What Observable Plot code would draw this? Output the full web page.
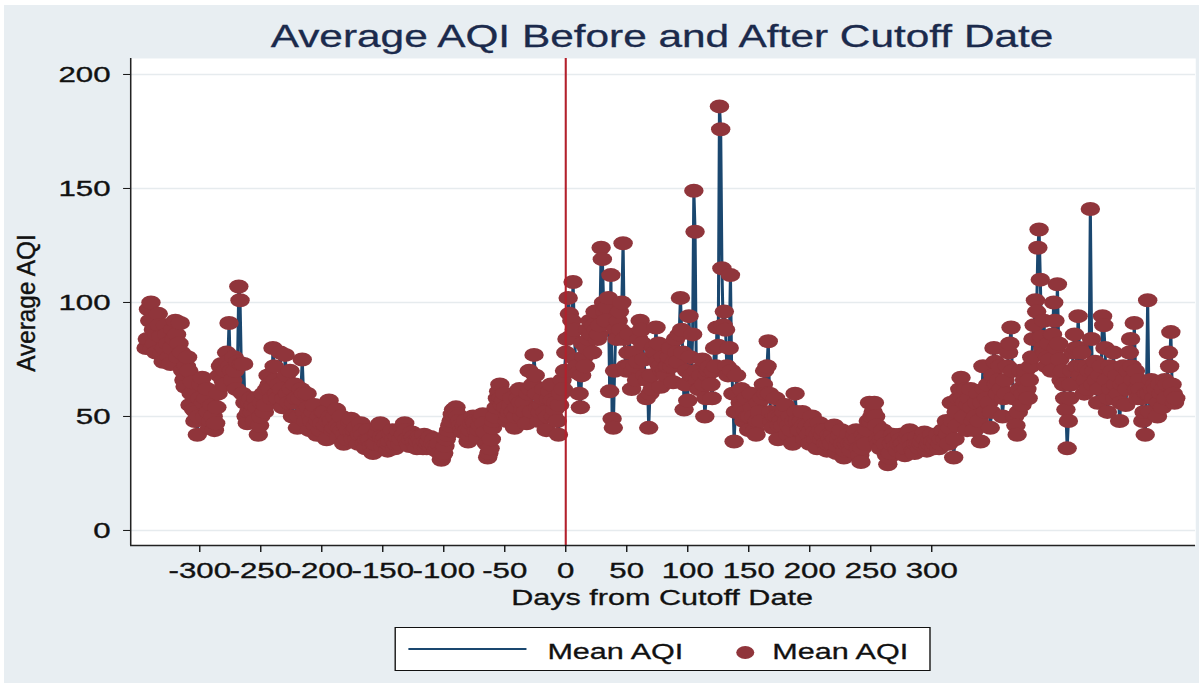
<!DOCTYPE html>
<html>
<head>
<meta charset="utf-8">
<script src="https://cdn.jsdelivr.net/npm/d3@7"></script>
<script src="https://cdn.jsdelivr.net/npm/@observablehq/plot@0.6"></script>
<style>
  html, body { margin: 0; padding: 0; background: #ffffff; }
  #page { position: relative; width: 1203px; height: 687px; overflow: hidden; background: #ffffff; }
  #bg { position: absolute; left: 4px; top: 5px; right: 4px; bottom: 4px; background: #e8eef2; }
  /* the graph is laid out on a narrower canvas and widened as a whole */
  #stage { position: absolute; left: 0; top: 0; width: 866px; height: 687px;
           transform: scaleX(1.3891); transform-origin: 0 0;
           font-family: "Liberation Sans", Arial, Helvetica, sans-serif; }
  .txt { position: absolute; white-space: nowrap; line-height: 1; -webkit-text-stroke: 0.3px currentColor; }
  #title { left: 476.6px; top: 21.2px; font-size: 30.5px; color: #1b2a4c; transform: translateX(-50%); }
  #xlabel { left: 476.6px; top: 587.4px; font-size: 22px; color: #111; transform: translateX(-50%); }
  #ylabel { left: 19.4px; top: 302.5px; font-size: 18px; color: #111;
            transform: translate(-50%, -50%) rotate(-90deg) scale(1.35, 1); }
  #chart { position: absolute; left: 0; top: 50px; }
  #chart svg text { stroke: currentColor; stroke-width: 0.35px; }
  #legend { position: absolute; left: 284.4px; top: 627px; width: 385.9px; height: 44px;
            box-sizing: border-box; border: 1px solid #111; background: #ffffff; }
  #legend .swLine { position: absolute; left: 8.8px; top: 20.2px; width: 85px; height: 1.6px; background: #1a476f; }
  #legend .swDot { position: absolute; left: 244.8px; top: 18px; width: 13px; height: 13px; border-radius: 50%; background: #90353b; }
  #legend .lab { position: absolute; top: 13.4px; font-size: 22px; color: #111; white-space: nowrap; line-height: 1; -webkit-text-stroke: 0.3px currentColor; }
</style>
</head>
<body>
<div id="page">
  <div id="bg"></div>
  <div id="stage">
    <div id="title" class="txt">Average AQI Before and After Cutoff Date</div>
    <div id="chart"></div>
    <div id="ylabel" class="txt">Average AQI</div>
    <div id="xlabel" class="txt">Days from Cutoff Date</div>
    <div id="legend">
      <div class="swLine"></div>
      <div class="lab" style="left:108.7px">Mean AQI</div>
      <div class="swDot"></div>
      <div class="lab" style="left:270.6px">Mean AQI</div>
    </div>
  </div>
</div>
<script>
// Daily mean AQI around the cutoff date.
const firstDay = -344;
const cutoffDay = 0;

// Days -344 .. -1
const aqiBefore = [
  80, 84, 97, 92, 100, 80, 88, 82, 78, 86,
  95, 90, 85, 78, 74, 80, 90, 86, 82, 76,
  73, 80, 88, 84, 92, 86, 76, 82, 91, 78,
  70, 66, 63, 72, 76, 70, 55, 60, 65, 53,
  48, 52, 42, 50, 58, 64, 67, 56, 50, 58,
  62, 52, 45, 48, 55, 50, 44, 47, 54, 60,
  68, 72, 73, 66, 64, 70, 78, 74, 91, 72,
  70, 66, 76, 70, 62, 74, 107, 101, 73, 60,
  73, 56, 50, 47, 52, 56, 58, 52, 55, 48,
  58, 54, 42, 46, 50, 56, 60, 52, 55, 62,
  68, 64, 62, 58, 80, 72, 66, 60, 58, 64,
  78, 62, 54, 58, 77, 68, 60, 56, 70, 62,
  50, 56, 64, 58, 45, 50, 58, 62, 75, 60,
  52, 48, 60, 54, 44, 50, 48, 52, 55, 46,
  42, 48, 50, 44, 47, 52, 52, 46, 40, 48,
  57, 50, 48, 44, 45, 50, 53, 46, 41, 45,
  50, 44, 38, 42, 46, 40, 44, 48, 49, 43,
  40, 44, 45, 40, 38, 42, 47, 44, 42, 38,
  36, 40, 44, 40, 40, 37, 34, 38, 38, 42,
  43, 46, 47, 41, 37, 40, 41, 38, 35, 38,
  39, 42, 44, 40, 36, 38, 41, 44, 38, 40,
  45, 42, 47, 44, 40, 38, 37, 40, 43, 41,
  39, 37, 36, 39, 41, 40, 38, 36, 42, 39,
  36, 38, 39, 41, 37, 38, 40, 37, 35, 37,
  38, 34, 31, 33, 34, 37, 40, 42, 44, 46,
  48, 51, 53, 50, 54, 51, 50, 48, 46, 44,
  43, 46, 48, 44, 39, 42, 44, 47, 50, 48,
  47, 44, 41, 44, 46, 49, 51, 47, 43, 38,
  32, 34, 36, 40, 45, 48, 50, 54, 58, 61,
  64, 58, 55, 57, 60, 54, 48, 50, 52, 55,
  58, 52, 45, 50, 54, 58, 62, 56, 50, 53,
  56, 52, 47, 60, 70, 62, 52, 64, 77, 68,
  60, 54, 48, 52, 55, 58, 62, 52, 44, 50,
  58, 61, 64, 57, 50, 53, 56, 48, 42, 55,
  60, 66, 62, 70
];

// Days 0 .. 500
const aqiAfter = [
  78, 84, 102, 95, 85, 92, 109, 88, 75, 72,
  69, 60, 54, 68, 82, 76, 72, 80, 88, 84,
  92, 86, 78, 90, 96, 88, 84, 86, 90, 124,
  119, 100, 96, 92, 98, 102, 61, 112, 49, 45,
  70, 88, 84, 92, 96, 88, 100, 126, 84, 72,
  70, 78, 86, 72, 62, 70, 78, 72, 66, 74,
  84, 92, 88, 82, 75, 68, 58, 66, 45, 60,
  68, 62, 80, 78, 89, 74, 82, 72, 63, 70,
  76, 70, 68, 72, 72, 76, 80, 72, 65, 74,
  84, 78, 74, 86, 102, 88, 78, 53, 64, 70,
  57, 94, 76, 68, 86, 149, 131, 70, 66, 62,
  62, 68, 75, 64, 50, 58, 68, 70, 72, 64,
  58, 70, 80, 72, 89, 81, 186, 176, 115, 90,
  96, 88, 72, 68, 80, 112, 70, 60, 39, 52,
  68, 60, 52, 56, 62, 54, 48, 52, 58, 50,
  44, 50, 60, 54, 50, 44, 42, 48, 56, 52,
  48, 58, 64, 70, 60, 72, 83, 60, 52, 48,
  45, 50, 58, 50, 40, 46, 50, 48, 46, 52,
  55, 48, 42, 46, 50, 44, 38, 48, 60, 52,
  48, 44, 44, 48, 52, 46, 40, 44, 46, 42,
  38, 44, 50, 46, 43, 40, 36, 42, 47, 44,
  40, 42, 44, 38, 35, 38, 42, 40, 38, 42,
  46, 40, 34, 37, 40, 42, 44, 38, 32, 35,
  38, 40, 42, 38, 35, 38, 40, 42, 44, 40,
  36, 33, 30, 36, 42, 40, 38, 44, 48, 56,
  48, 50, 52, 56, 50, 46, 40, 38, 36, 40,
  44, 41, 38, 33, 29, 32, 34, 38, 42, 40,
  40, 37, 35, 38, 42, 40, 38, 35, 33, 36,
  40, 42, 44, 40, 37, 35, 34, 38, 41, 38,
  36, 38, 39, 41, 43, 40, 35, 37, 38, 40,
  42, 39, 36, 38, 40, 42, 36, 38, 40, 44,
  44, 40, 48, 42, 38, 45, 56, 48, 32, 40,
  52, 46, 58, 62, 67, 58, 50, 56, 62, 44,
  55, 58, 62, 54, 48, 44, 50, 56, 60, 48,
  39, 56, 72, 62, 52, 58, 64, 56, 45, 52,
  68, 80, 74, 64, 60, 66, 72, 62, 50, 58,
  66, 60, 72, 78, 82, 89, 70, 58, 50, 46,
  42, 52, 62, 70, 55, 60, 66, 70, 62, 58,
  66, 72, 76, 84, 90, 101, 96, 124, 132, 110,
  85, 80, 92, 78, 72, 76, 82, 75, 70, 86,
  100, 92, 80, 108, 82, 75, 66, 70, 64, 58,
  53, 36, 48, 58, 64, 70, 78, 86, 80, 72,
  94, 80, 68, 78, 72, 60, 66, 72, 62, 70,
  141, 84, 64, 70, 74, 66, 56, 62, 68, 72,
  94, 90, 80, 66, 52, 58, 72, 62, 70, 78,
  58, 64, 68, 60, 48, 56, 64, 72, 66, 55,
  62, 70, 78, 84, 72, 66, 91, 70, 62, 58,
  66, 62, 58, 48, 52, 42, 60, 101, 60, 52,
  66, 62, 58, 64, 62, 50, 56, 64, 60, 54,
  62, 66, 58, 64, 78, 72, 87, 64, 60, 56,
  58
];

const xTicks = [-300, -250, -200, -150, -100, -50, 0, 50, 100, 150, 200, 250, 300];
const yTicks = [0, 50, 100, 150, 200];
const xDomain = [-356.6, 516.4];
const yDomain = [-6.6, 207];

const aqi = aqiBefore.concat(aqiAfter);
const rows = aqi.map((v, i) => ({ day: firstDay + i, aqi: v }));

const chart = Plot.plot({
  width: 866,
  height: 540,
  marginLeft: 93.6,
  marginRight: 5.7,
  marginTop: 8,
  marginBottom: 45,
  style: {
    background: "transparent",
    fontFamily: "'Liberation Sans', Arial, Helvetica, sans-serif",
    fontSize: "22.5px",
    color: "#111111",
    overflow: "visible"
  },
  x: { domain: xDomain },
  y: { domain: yDomain },
  marks: [
    Plot.frame({ fill: "#ffffff", stroke: "none" }),
    Plot.gridY(yTicks, { stroke: "#e6ebee", strokeOpacity: 1, strokeWidth: 1.6 }),
    Plot.line(rows, { x: "day", y: "aqi", stroke: "#1a476f", strokeWidth: 2.2 }),
    Plot.dot(rows, { x: "day", y: "aqi", r: 7, fill: "#90353b", stroke: "none" }),
    Plot.ruleX([cutoffDay], { stroke: "#b3202c", strokeWidth: 1.5 }),
    Plot.ruleX([xDomain[0]], { stroke: "#222222", strokeWidth: 1.1 }),
    Plot.ruleY([yDomain[0]], { stroke: "#222222", strokeWidth: 1.5 }),
    Plot.axisY({ ticks: yTicks, tickSize: 5, tickPadding: 9.5, label: null, tickFormat: d => String(d) }),
    Plot.axisX({ ticks: xTicks, tickSize: 7, tickPadding: 10, label: null, tickFormat: d => String(d) })
  ]
});

document.getElementById("chart").appendChild(chart);
</script>
</body>
</html>
